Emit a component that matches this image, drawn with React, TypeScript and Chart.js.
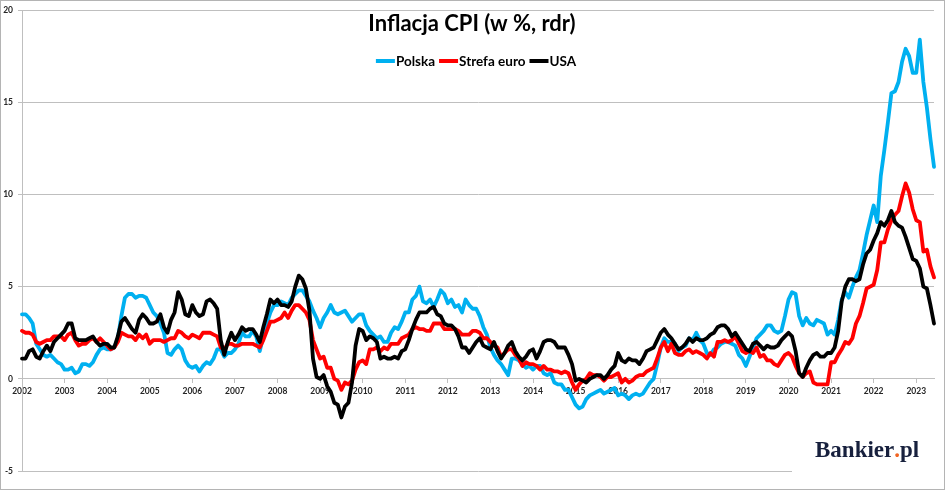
import { useEffect, useRef } from "react"
import { Chart, registerables } from "chart.js"

Chart.register(...registerables)

const firstYear = 2002
const lastYear = 2023
const lastMonth = 6

const months: string[] = []
for (let y = firstYear; y <= lastYear; y++) {
    const end = y === lastYear ? lastMonth : 12
    for (let m = 1; m <= end; m++) months.push(`${y}-${String(m).padStart(2, "0")}`)
}

const polska = [
    3.5, 3.5, 3.3, 3.0, 1.9, 1.6, 1.3, 1.2, 1.3, 1.1, 0.9, 0.8,
    0.5, 0.5, 0.6, 0.3, 0.4, 0.8, 0.8, 0.7, 0.9, 1.3, 1.6, 1.7,
    1.6, 1.6, 1.7, 2.2, 3.4, 4.4, 4.6, 4.6, 4.4, 4.5, 4.5, 4.4,
    4.0, 3.6, 3.4, 3.0, 2.5, 1.4, 1.3, 1.6, 1.8, 1.6, 1.0, 0.7,
    0.6, 0.7, 0.4, 0.7, 0.9, 0.8, 1.1, 1.6, 1.6, 1.2, 1.4, 1.4,
    1.6, 1.9, 2.5, 2.3, 2.3, 2.6, 2.3, 1.5, 2.3, 3.0, 3.6, 4.0,
    4.0, 4.2, 4.1, 4.0, 4.4, 4.6, 4.8, 4.8, 4.5, 4.2, 3.7, 3.3,
    2.8, 3.3, 3.6, 4.0, 3.6, 3.5, 3.6, 3.7, 3.4, 3.1, 3.3, 3.5,
    3.5, 2.9, 2.6, 2.4, 2.2, 2.3, 2.0, 2.0, 2.5, 2.8, 2.7, 3.1,
    3.6, 3.6, 4.3, 4.5, 5.0, 4.2, 4.1, 4.3, 3.9, 4.3, 4.8, 4.6,
    4.1, 4.3, 3.9, 4.0, 3.6, 4.3, 4.0, 3.8, 3.8, 3.4, 2.8, 2.4,
    1.7, 1.3, 1.0, 0.8, 0.5, 0.2, 1.1, 1.1, 1.0, 0.8, 0.6, 0.7,
    0.5, 0.7, 0.7, 0.3, 0.2, 0.3, -0.2, -0.3, -0.3, -0.6, -0.6, -1.0,
    -1.4, -1.6, -1.5, -1.1, -0.9, -0.8, -0.7, -0.6, -0.8, -0.7, -0.6, -0.5,
    -0.9, -0.8, -0.9, -1.1, -0.9, -0.8, -0.9, -0.8, -0.5, -0.2, 0.0, 0.8,
    1.7, 2.2, 2.0, 2.0, 1.9, 1.5, 1.7, 1.8, 2.2, 2.1, 2.5, 2.1,
    1.9, 1.4, 1.3, 1.6, 1.7, 1.9, 2.0, 2.0, 1.9, 1.8, 1.3, 1.1,
    0.7, 1.2, 1.7, 2.2, 2.4, 2.6, 2.9, 2.9, 2.6, 2.5, 2.6, 3.4,
    4.3, 4.7, 4.6, 3.4, 2.9, 3.3, 3.0, 2.9, 3.2, 3.1, 3.0, 2.4,
    2.6, 2.4, 3.2, 4.3, 4.7, 4.4, 5.0, 5.5, 5.9, 6.8, 7.8, 8.6,
    9.4, 8.5, 11.0, 12.4, 13.9, 15.5, 15.6, 16.1, 17.2, 17.9, 17.5, 16.6,
    16.6, 18.4, 16.1, 14.7, 13.0, 11.5
]

const strefaEuro = [
    2.6, 2.5, 2.5, 2.4, 2.0, 1.9, 2.0, 2.1, 2.1, 2.3, 2.3, 2.3,
    2.1, 2.4, 2.5, 2.1, 1.8, 1.9, 1.9, 2.1, 2.2, 2.0, 2.2, 2.0,
    1.8, 1.6, 1.7, 2.0, 2.5, 2.4, 2.3, 2.3, 2.1, 2.4, 2.2, 2.4,
    1.9, 2.1, 2.1, 2.1, 2.0, 2.1, 2.2, 2.2, 2.6, 2.5, 2.3, 2.2,
    2.4, 2.3, 2.2, 2.5, 2.5, 2.5, 2.4, 2.3, 1.7, 1.6, 1.9, 1.9,
    1.8, 1.8, 1.9, 1.9, 1.9, 1.9, 1.8, 1.7, 2.1, 2.6, 3.1, 3.1,
    3.2, 3.3, 3.6, 3.3, 3.7, 4.0, 4.0, 3.8, 3.6, 3.2, 2.1, 1.6,
    1.1, 1.2, 0.6, 0.6, 0.0, -0.1, -0.6, -0.2, -0.3, -0.1, 0.5, 0.9,
    1.0, 0.8, 1.6, 1.6, 1.7, 1.5, 1.7, 1.6, 1.9, 1.9, 1.9, 2.2,
    2.3, 2.4, 2.7, 2.8, 2.7, 2.7, 2.6, 2.6, 3.0, 3.0, 3.0, 2.7,
    2.7, 2.7, 2.7, 2.6, 2.4, 2.4, 2.4, 2.6, 2.6, 2.5, 2.2, 2.2,
    2.0, 1.8, 1.7, 1.2, 1.4, 1.6, 1.6, 1.3, 1.1, 0.7, 0.9, 0.8,
    0.8, 0.7, 0.5, 0.7, 0.5, 0.5, 0.4, 0.4, 0.3, 0.4, 0.3, -0.2,
    -0.6, -0.3, -0.1, 0.0, 0.3, 0.2, 0.2, 0.1, -0.1, 0.1, 0.1, 0.2,
    0.3, -0.2, 0.0, -0.2, -0.1, 0.1, 0.2, 0.2, 0.4, 0.5, 0.6, 1.1,
    1.7, 2.0, 1.5, 1.9, 1.4, 1.3, 1.3, 1.5, 1.6, 1.4, 1.5, 1.4,
    1.3, 1.1, 1.4, 1.2, 2.0, 2.0, 2.1, 2.0, 2.1, 2.3, 1.9, 1.5,
    1.4, 1.5, 1.4, 1.7, 1.2, 1.3, 1.0, 1.0, 0.8, 0.7, 1.0, 1.3,
    1.4, 1.2, 0.7, 0.3, 0.1, 0.3, 0.4, -0.2, -0.3, -0.3, -0.3, -0.3,
    0.9, 0.9, 1.3, 1.6, 2.0, 1.9, 2.2, 3.0, 3.4, 4.1, 4.9, 5.0,
    5.1, 5.9, 7.4, 7.4, 8.1, 8.6, 8.9, 9.1, 9.9, 10.6, 10.1, 9.2,
    8.6, 8.5, 6.9, 7.0, 6.1, 5.5
]

const usa = [
    1.1, 1.1, 1.5, 1.6, 1.2, 1.1, 1.5, 1.8, 1.5, 2.0, 2.2, 2.4,
    2.6, 3.0, 3.0, 2.2, 2.1, 2.1, 2.1, 2.2, 2.3, 2.0, 1.8, 1.9,
    1.9, 1.7, 1.7, 2.3, 3.1, 3.3, 3.0, 2.7, 2.5, 3.2, 3.5, 3.3,
    3.0, 3.0, 3.1, 3.5, 2.8, 2.5, 3.2, 3.6, 4.7, 4.3, 3.5, 3.4,
    4.0, 3.6, 3.4, 3.5, 4.2, 4.3, 4.1, 3.8, 2.1, 1.3, 2.0, 2.5,
    2.1, 2.4, 2.8, 2.6, 2.7, 2.7, 2.4, 2.0, 2.8, 3.5, 4.3, 4.1,
    4.3, 4.0, 4.0, 3.9, 4.2, 5.0, 5.6, 5.4, 4.9, 3.7, 1.1, 0.1,
    0.0, 0.2, -0.4, -0.7, -1.3, -1.4, -2.1, -1.5, -1.3, -0.2, 1.8, 2.7,
    2.6, 2.1, 2.3, 2.2, 2.0, 1.1, 1.2, 1.1, 1.1, 1.2, 1.1, 1.5,
    1.6, 2.1, 2.7, 3.2, 3.6, 3.6, 3.6, 3.8, 3.9, 3.5, 3.4, 3.0,
    2.9, 2.9, 2.7, 2.3, 1.7, 1.7, 1.4, 1.7, 2.0, 2.2, 1.8, 1.7,
    1.6, 2.0, 1.5, 1.1, 1.4, 1.8, 2.0, 1.5, 1.2, 1.0, 1.2, 1.5,
    1.6, 1.1, 1.5, 2.0, 2.1, 2.1, 2.0, 1.7, 1.7, 1.7, 1.3, 0.8,
    -0.1, 0.0, -0.1, -0.2, 0.0, 0.1, 0.2, 0.2, 0.0, 0.2, 0.5, 0.7,
    1.4, 1.0, 0.9, 1.1, 1.0, 1.0, 0.8, 1.1, 1.5, 1.6, 1.7, 2.1,
    2.5, 2.7, 2.4, 2.2, 1.9, 1.6, 1.7, 1.9, 2.2, 2.0, 2.2, 2.1,
    2.1, 2.2, 2.4, 2.5, 2.8, 2.9, 2.9, 2.7, 2.3, 2.5, 2.2, 1.9,
    1.6, 1.5, 1.9, 2.0, 1.8, 1.6, 1.8, 1.7, 1.7, 1.8, 2.1, 2.3,
    2.5, 2.3, 1.5, 0.3, 0.1, 0.6, 1.0, 1.3, 1.4, 1.2, 1.2, 1.4,
    1.4, 1.7, 2.6, 4.2, 5.0, 5.4, 5.4, 5.3, 5.4, 6.2, 6.8, 7.0,
    7.5, 7.9, 8.5, 8.3, 8.6, 9.1, 8.5, 8.3, 8.2, 7.7, 7.1, 6.5,
    6.4, 6.0, 5.0, 4.9, 4.0, 3.0
]

const seriesLabels = ["Polska", "Strefa euro", "USA"]
const seriesColors = ["#00b0f0", "#ff0000", "#000000"]

const gridColor = "#bfbfbf"
const tickFont = { family: "Lato", size: 8.5, weight: "bold" as const }

// title, legend and logo sit over the plot area, like in the Excel original
const overlayPlugin = {
    id: "overlay",
    afterDraw(chart: Chart) {
        const ctx = chart.ctx
        ctx.save()

        ctx.fillStyle = "#000"
        ctx.textBaseline = "alphabetic"
        ctx.textAlign = "center"
        ctx.font = "bold 22px Lato"
        ctx.fillText("Inflacja CPI (w %, rdr)", 472, 31)

        ctx.font = "bold 13.5px Lato"
        ctx.textAlign = "left"
        const widths = seriesLabels.map(l => ctx.measureText(l).width)
        const total = widths.reduce((a, w) => a + 20 + w, 0) + 4 * (seriesLabels.length - 1)
        let x = 476 - total / 2
        seriesLabels.forEach((label, i) => {
            ctx.fillStyle = seriesColors[i]
            ctx.fillRect(x, 59, 19, 4)
            x += 20
            ctx.fillStyle = "#000"
            ctx.fillText(label, x, 65.5)
            x += widths[i] + 4
        })

        ctx.fillStyle = "#fff"
        ctx.fillRect(792, 428, 148, 56)
        ctx.font = "bold 23px 'Liberation Serif'"
        ctx.fillStyle = "#17203d"
        let lx = 815
        ctx.fillText("Bankier", lx, 457)
        lx += ctx.measureText("Bankier").width
        ctx.fillStyle = "#f26522"
        ctx.fillText(".", lx, 457)
        lx += ctx.measureText(".").width
        ctx.fillStyle = "#17203d"
        ctx.fillText("pl", lx, 457)

        ctx.restore()
    }
}

function InflationChart() {
    const canvasRef = useRef<HTMLCanvasElement>(null)

    useEffect(() => {
        document.body.style.margin = "0"
        const data = [polska, strefaEuro, usa]
        const chart = new Chart(canvasRef.current!, {
            type: "line",
            data: {
                labels: months,
                datasets: seriesLabels.map((label, i) => ({
                    label,
                    data: data[i],
                    borderColor: seriesColors[i],
                    backgroundColor: seriesColors[i],
                    borderWidth: 3.8,
                    pointRadius: 0,
                    tension: 0,
                    borderJoinStyle: "round" as const,
                    borderCapStyle: "round" as const,
                    order: 2 - i
                }))
            },
            options: {
                animation: false,
                responsive: true,
                maintainAspectRatio: false,
                layout: { padding: { left: 0, top: 8, right: 14, bottom: 19 } },
                plugins: {
                    legend: { display: false },
                    title: { display: false },
                    tooltip: { enabled: false }
                },
                scales: {
                    x: {
                        type: "category",
                        position: { y: 0 },
                        offset: false,
                        grid: { drawOnChartArea: false, tickLength: 4, color: gridColor },
                        border: { display: true, color: gridColor },
                        ticks: {
                            autoSkip: false,
                            maxRotation: 0,
                            minRotation: 0,
                            padding: 3,
                            color: "#262626",
                            font: tickFont,
                            callback: (_v, i) => (months[i].endsWith("-01") ? months[i].slice(0, 4) : null)
                        }
                    },
                    y: {
                        min: -5,
                        max: 20,
                        ticks: { stepSize: 5, padding: 5, color: "#262626", font: tickFont },
                        grid: { color: gridColor, tickLength: 4 },
                        border: { display: true, color: gridColor },
                        afterFit: scale => {
                            scale.width = 22
                        }
                    }
                }
            },
            plugins: [overlayPlugin]
        })

        return () => chart.destroy()
    }, [])

    return (
        <div style={{ position: "relative", width: 948, height: 490, background: "#fff" }}>
            <canvas ref={canvasRef}></canvas>
            <div
                style={{
                    position: "absolute",
                    left: 0,
                    top: 0,
                    width: 945,
                    height: 490,
                    boxSizing: "border-box",
                    border: "1px solid #b4b4b4",
                    pointerEvents: "none"
                }}
            ></div>
        </div>
    )
}

export default function App() {
    return <InflationChart />
}
